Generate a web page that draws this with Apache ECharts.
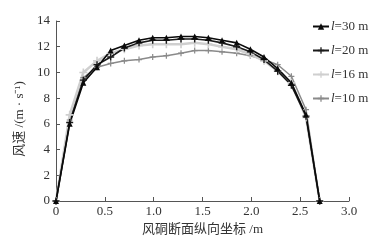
<!DOCTYPE html>
<html><head><meta charset="utf-8">
<script src="https://cdn.jsdelivr.net/npm/echarts@6/dist/echarts.min.js"></script>
<style>html,body{margin:0;padding:0;background:#fff}#c{width:378px;height:243px}</style>
</head><body><div id="c"></div>
<script>
const xs = [0, 0.14, 0.28, 0.42, 0.56, 0.70, 0.85, 0.99, 1.13, 1.28, 1.42, 1.56, 1.70, 1.85, 1.99, 2.13, 2.27, 2.41, 2.56, 2.70];
const l30 = [0, 6.0, 9.2, 10.4, 11.7, 12.1, 12.5, 12.7, 12.7, 12.8, 12.8, 12.7, 12.5, 12.3, 11.8, 11.2, 10.3, 9.2, 6.7, 0];
const l20 = [0, 6.1, 9.4, 10.6, 11.2, 11.9, 12.3, 12.5, 12.5, 12.6, 12.6, 12.5, 12.3, 12.0, 11.6, 11.0, 10.1, 9.0, 6.6, 0];
const l16 = [0, 6.7, 10.0, 10.9, 11.5, 11.8, 12.1, 12.2, 12.2, 12.2, 12.3, 12.2, 12.0, 11.8, 11.4, 10.9, 10.1, 9.2, 6.5, 0];
const l10 = [0, 6.3, 9.6, 10.4, 10.7, 10.9, 11.0, 11.2, 11.3, 11.5, 11.7, 11.7, 11.6, 11.5, 11.3, 11.0, 10.6, 9.7, 7.1, 0];
const names = ['l=30 m', 'l=20 m', 'l=16 m', 'l=10 m'];
const xTicks = ['0', '0.5', '1.0', '1.5', '2.0', '2.5', '3.0'];
const yName = '风速 /(m · s⁻¹)';
const xName = '风硐断面纵向坐标 /m';

const plus = 'path://M4,0H6V4H10V6H6V10H4V6H0V4H4Z';
const pair = a => xs.map((x, i) => [x, a[i]]);
const serif = '"Liberation Serif","DejaVu Serif",serif';
const cjk = '"Liberation Serif","Noto Sans CJK SC",serif';

function mk(name, data, color, symbol, size, width) {
  return {
    name, type: 'line', data: pair(data), symbol, symbolSize: size,
    lineStyle: { color, width }, itemStyle: { color },
    emphasis: { disabled: true }
  };
}

const chart = echarts.init(document.getElementById('c'), null, { renderer: 'canvas' });
chart.setOption({
  animation: false,
  backgroundColor: '#fff',
  grid: { left: 56, right: 29, top: 21, bottom: 42 },
  legend: {
    orient: 'vertical', left: 307, top: 15, itemGap: 11, itemWidth: 16, itemHeight: 8,
    data: names,
    formatter: n => '{i|l}' + n.slice(1),
    textStyle: { fontFamily: serif, fontSize: 13, color: '#333', padding: [0, 0, 0, -3],
      rich: { i: { fontStyle: 'italic', fontFamily: serif, fontSize: 13, color: '#333' } } }
  },
  graphic: [{
    type: 'text', x: 13, y: 119, rotation: Math.PI / 2,
    style: { text: yName, font: '13px ' + cjk, fill: '#333', align: 'center', verticalAlign: 'top' }
  }],
  xAxis: {
    type: 'value', min: 0, max: 3, interval: 0.5,
    name: xName, nameLocation: 'middle', nameGap: 21,
    nameTextStyle: { fontFamily: cjk, fontSize: 13, color: '#333' },
    axisLine: { lineStyle: { color: '#555', width: 1 } },
    axisTick: { inside: true, length: 4, lineStyle: { color: '#555' } },
    axisLabel: { fontFamily: serif, fontSize: 13, color: '#333', margin: 4,
      formatter: v => xTicks[Math.round(v / 0.5)] },
    splitLine: { show: false }
  },
  yAxis: {
    type: 'value', min: 0, max: 14, interval: 2,
    axisLine: { show: true, lineStyle: { color: '#555', width: 1 } },
    axisTick: { show: true, inside: true, length: 4, lineStyle: { color: '#555' } },
    axisLabel: { fontFamily: serif, fontSize: 13, color: '#333', margin: 6 },
    splitLine: { show: false }
  },
  series: [
    mk(names[3], l10, '#8a8a8a', plus, 6, 1.5),
    mk(names[2], l16, '#cfcfcf', plus, 8, 2.5),
    mk(names[1], l20, '#1a1a1a', plus, 7, 1.6),
    mk(names[0], l30, '#0a0a0a', 'triangle', 6, 1.6)
  ]
});
</script></body></html>
